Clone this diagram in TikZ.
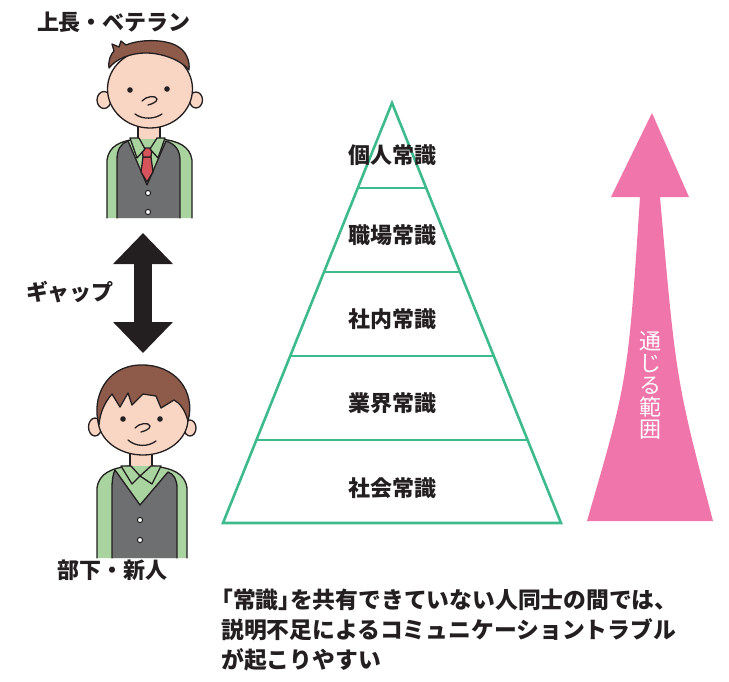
\documentclass[tikz,border=0pt]{standalone}
\usepackage{fontspec}
\setmainfont{Noto Sans CJK JP}
\usetikzlibrary{arrows.meta,calc}

\definecolor{ink}{HTML}{231F20}
\definecolor{tiergreen}{HTML}{3DBB8C}
\definecolor{reachpink}{HTML}{EF75AA}
\definecolor{skincol}{HTML}{F9D5C4}
\definecolor{haircol}{HTML}{8E5B4B}
\definecolor{shirtcol}{HTML}{A9D39F}
\definecolor{vestcol}{HTML}{6E6F71}
\definecolor{tiecol}{HTML}{D8545C}

\tikzset{
  outline/.style={draw=ink, line width=1.3pt, line join=round, line cap=round},
  skin/.style={outline, fill=skincol},
  hair/.style={outline, fill=haircol},
  shirt/.style={outline, fill=shirtcol},
  vest/.style={outline, fill=vestcol},
  tie/.style={outline, fill=tiecol},
  button/.style={outline, line width=1pt, fill=white},
  tier/.style={draw=tiergreen, line width=2.6pt, line join=miter},
  label/.style={text=ink, font=\bfseries\fontsize{22}{26}\selectfont, inner sep=0pt},
  gaparrow/.style={draw=ink, line width=18pt,
    {Triangle[length=31pt,width=58pt]}-{Triangle[length=31pt,width=58pt]}},
}

\begin{document}
\begin{tikzpicture}[x=1pt, y=-1pt]
    \useasboundingbox (0,0) rectangle (729,681);

    % Piramide
    \coordinate (apex) at (392,103);
    \coordinate (baseL) at (223,523);
    \coordinate (baseR) at (561,523);
    \draw[tier] (apex) -- (baseR) -- (baseL) -- cycle;
    \foreach \t in {85,169,253,337}
        \draw[tier] ($(apex)!{\t/420}!(baseL)$) -- ($(apex)!{\t/420}!(baseR)$);

    \node[label] (personal) at (392,155) {個人常識};
    \node[label] (workplace) at (392,235) {職場常識};
    \node[label] (company) at (392,319) {社内常識};
    \node[label] (industry) at (392,403) {業界常識};
    \node[label] (society) at (392,488) {社会常識};

    % Freccia rosa
    \fill[reachpink] (652,113) -- (689,197) -- (660,197)
        .. controls (676,380) .. (713,521) -- (587,521)
        .. controls (628,380) .. (640,197) -- (611,197) -- cycle;
    \node[text=white, font=\fontsize{22}{22}\selectfont, align=center, inner sep=0pt]
        (reach) at (650,385) {通\\じ\\る\\範\\囲};

    % Freccia nera
    \coordinate (gapTop) at (143,233);
    \coordinate (gapBot) at (143,353);
    \draw[gaparrow] (gapTop) -- (gapBot);
    \node[label] (gap) at (70,292) {ギャップ};

    % Etichette
    \node[label] (senior) at (114,22) {上長・ベテラン};
    \node[label] (junior) at (112,570) {部下・新人};

    % Testo in basso
    \node[label, anchor=north west, align=left, font=\bfseries\fontsize{22.8}{30}\selectfont]
        (note) at (210,589) {「常識」\hspace{-0.5em}を共有できていない人同士の間では、\\
        \hspace*{11pt}説明不足によるコミュニケーショントラブル\\
        \hspace*{11pt}が起こりやすい};

    % Omino in alto
    \draw[skin] (138,118) rectangle (160,145);
    \fill[shirtcol] (137,139) .. controls (120,141) and (109,146) .. (107,160) -- (107,218)
        -- (192,218) -- (192,160) .. controls (190,146) and (178,141) .. (161,139) -- cycle;
    \draw[outline] (107,218) -- (107,160) .. controls (109,146) and (120,141) .. (137,139);
    \draw[outline] (192,218) -- (192,160) .. controls (190,146) and (178,141) .. (161,139);
    \fill[vestcol] (128,141) .. controls (120,144) and (117,150) .. (117,160) -- (117,218)
        -- (180,218) -- (180,160) .. controls (180,150) and (175,144) .. (166,141) -- (147,185) -- cycle;
    \draw[outline] (117,218) -- (117,160) .. controls (117,150) and (120,144) .. (128,141)
        -- (147,185) -- (166,141) .. controls (175,144) and (180,150) .. (180,160) -- (180,218);
    \draw[tie] (143,157) -- (141,172) -- (147,182) -- (153,172) -- (151,157) -- cycle;
    \draw[tie] (142,148) -- (152,148) -- (151,157) -- (143,157) -- cycle;
    \draw[shirt] (130,138) -- (137,158) -- (145,149) -- (139,138) -- cycle;
    \draw[shirt] (165,138) -- (158,158) -- (150,149) -- (157,138) -- cycle;
    \draw[button] (148,193) circle (2.6);
    \draw[button] (148,212) circle (2.6);
    \draw[skin] (104,100) ellipse (7 and 8.5);
    \draw[skin] (196,100) ellipse (6.5 and 8);
    \draw[skin] (150,89) ellipse (42.5 and 39);
    \draw[hair] (109,68) .. controls (108,60) and (111,54) .. (114,51) -- (112,44) -- (119,47)
        -- (121,41) -- (126,45) .. controls (140,39) and (165,39) .. (177,46)
        .. controls (186,51) and (190,60) .. (189,70)
        .. controls (181,60) and (162,53) .. (146,53)
        .. controls (130,53) and (116,59) .. cycle;
    \fill[ink] (130,90) circle (2.8);
    \fill[ink] (167,89) circle (2.8);
    \draw[outline] (142,101) .. controls (146,96) and (156,95) .. (157,99)
        .. controls (157,102) and (152,104) .. (148,105);
    \draw[outline] (135,114) .. controls (143,120) and (155,119) .. (162,114);

    % Omino in basso
    \draw[skin] (130,445) rectangle (152,472);
    \fill[shirtcol] (130,466) .. controls (112,468) and (99,473) .. (97,488) -- (97,558)
        -- (187,558) -- (187,488) .. controls (185,473) and (172,468) .. (152,466) -- cycle;
    \draw[outline] (97,558) -- (97,488) .. controls (99,473) and (112,468) .. (130,466);
    \draw[outline] (187,558) -- (187,488) .. controls (185,473) and (172,468) .. (152,466);
    \fill[vestcol] (115,470) .. controls (113,474) and (112,480) .. (112,488) -- (112,558)
        -- (177,558) -- (177,488) .. controls (177,480) and (174,474) .. (168,472) -- (140,505) -- cycle;
    \draw[outline] (112,558) -- (112,488) .. controls (112,480) and (113,474) .. (115,470)
        -- (140,505) -- (168,472) .. controls (174,474) and (177,480) .. (177,488) -- (177,558);
    \draw[shirt] (121,466) -- (132,484) -- (140,476) -- (131,466) -- cycle;
    \draw[shirt] (161,466) -- (152,484) -- (140,476) -- (151,466) -- cycle;
    \draw[button] (140,520) circle (2.6);
    \draw[button] (140,540) circle (2.6);
    \draw[skin] (95,427) ellipse (6.5 and 9);
    \draw[skin] (190,428) ellipse (6 and 8);
    \draw[skin] (143,419) ellipse (45 and 36);
    \draw[hair] (99,425) .. controls (91,398) and (106,366) .. (140,365)
        .. controls (176,364) and (196,392) .. (188,421)
        .. controls (185,410) and (180,403) .. (174,400)
        -- (161,408) -- (156,396) -- (143,394) -- (132,405) -- (128,393) -- (120,407)
        -- (112,394) .. controls (105,402) and (100,412) .. cycle;
    \fill[ink] (123,419) circle (2.8);
    \fill[ink] (160,419) circle (2.8);
    \draw[outline] (135,428) .. controls (139,423) and (149,422) .. (150,426)
        .. controls (150,429) and (145,431) .. (141,432);
    \draw[outline] (128,440) .. controls (136,447) and (148,447) .. (156,441);

\end{tikzpicture}
\end{document}
